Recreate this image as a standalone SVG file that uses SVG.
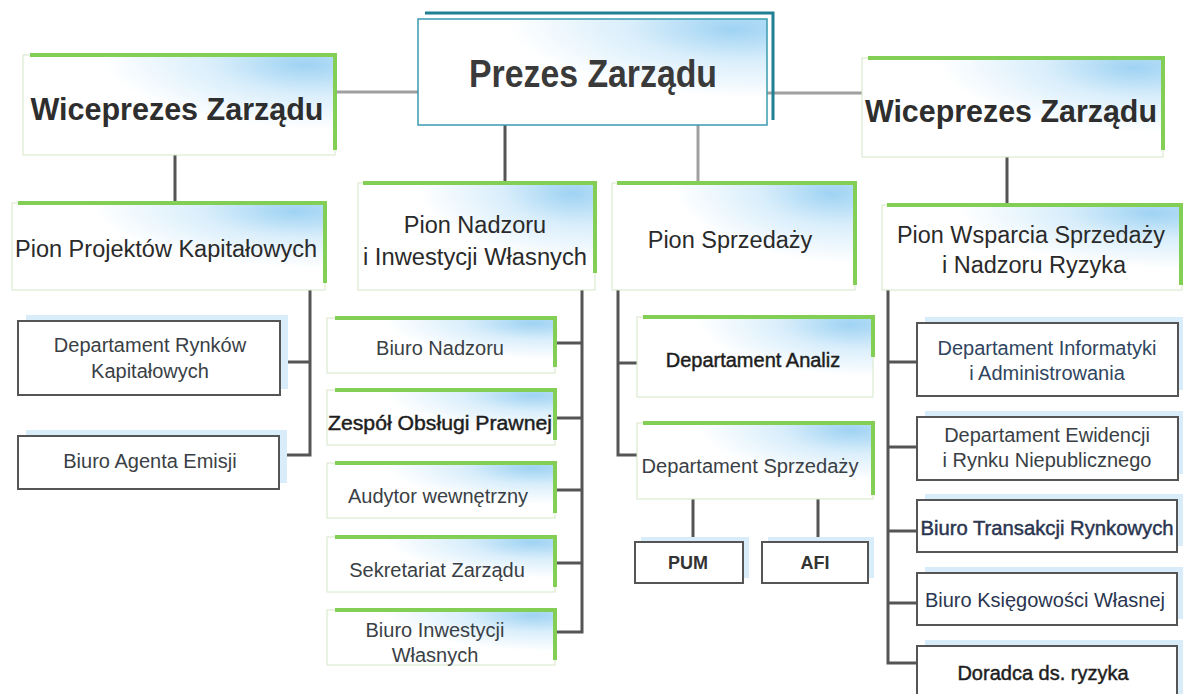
<svg xmlns="http://www.w3.org/2000/svg" width="1183" height="694" viewBox="0 0 1183 694">
<defs>
<radialGradient id="g" cx="1" cy="0" r="0.75" fx="0.9" fy="0.1">
<stop offset="0" stop-color="#9fd3f3"/>
<stop offset="0.45" stop-color="#d9eefb"/>
<stop offset="1" stop-color="#ffffff"/>
</radialGradient>
<style>
.gb{fill:url(#g);stroke:#d5e8c8;stroke-width:1}
.gr{fill:none;stroke:#83cf55;stroke-width:4}
.bx{fill:#fff;stroke:#555;stroke-width:2}
.sh{fill:#d8edf9}
.c{fill:none;stroke:#555;stroke-width:3}
.cl{fill:none;stroke:#a0a0a0;stroke-width:3}
text{font-family:"Liberation Sans",Arial,sans-serif;text-anchor:middle;fill:#333}
.t1{font-size:38px;font-weight:bold;fill:#3a3a3a}
.t2{font-size:31px;font-weight:bold;fill:#2e2e2e}
.t3{font-size:23.5px;fill:#2a2a2a}
.t4{font-size:20px;fill:#3a3f45}
.t5{font-size:20px;fill:#1e1e1e;stroke:#1e1e1e;stroke-width:0.45}
.t6{font-size:18px;font-weight:bold;fill:#333}
</style>
</defs>
<rect width="1183" height="694" fill="#fff"/>

<g id="connectors">
<path class="cl" d="M336,92 H418"/>
<path class="cl" d="M767,93 H862"/>
<path class="c" d="M505,125 V183"/>
<path class="cl" d="M698,125 V183"/>
<path class="c" d="M175,155 V203"/>
<path class="c" d="M1007,157 V205"/>
<path class="c" d="M310,290 V455 H279 M280,362 H310"/>
<path class="c" d="M582,290 V632 H555 M555,343 H582 M555,418 H582 M555,490 H582 M555,563 H582"/>
<path class="c" d="M618,290 V455 H637 M618,363 H637"/>
<path class="c" d="M693,499 V542 M818,499 V542"/>
<path class="c" d="M888,290 V663 H917 M888,362 H917 M888,447 H917 M888,531 H917 M888,603 H917"/>
</g>

<g id="prezes">
<path d="M425,13 H773 V120" fill="none" stroke="#1f7f93" stroke-width="3"/>
<rect x="418" y="19" width="349" height="106" fill="url(#g)" stroke="#3a9bb0" stroke-width="1.5"/>
<text class="t1" x="593" y="87" textLength="248" lengthAdjust="spacingAndGlyphs">Prezes Zarządu</text>
</g>

<g id="vp-left">
<rect class="gb" x="23" y="55" width="312" height="100"/>
<path class="gr" d="M30,55 H335 V150"/>
<text class="t2" x="177" y="120" textLength="293" lengthAdjust="spacingAndGlyphs">Wiceprezes Zarządu</text>
</g>

<g id="vp-right">
<rect class="gb" x="862" y="58" width="301" height="99"/>
<path class="gr" d="M868,58 H1163 V150"/>
<text class="t2" x="1011" y="122" textLength="292" lengthAdjust="spacingAndGlyphs">Wiceprezes Zarządu</text>
</g>

<g id="pion-projektow">
<rect class="gb" x="12" y="203" width="313" height="87"/>
<path class="gr" d="M18,203 H325 V283"/>
<text class="t3" x="166" y="257" textLength="302" lengthAdjust="spacingAndGlyphs">Pion Projektów Kapitałowych</text>
</g>

<g id="pion-nadzoru">
<rect class="gb" x="358" y="183" width="237" height="107"/>
<path class="gr" d="M363,183 H595 V273"/>
<text class="t3" x="475" y="233">Pion Nadzoru</text>
<text class="t3" x="475" y="265" textLength="224" lengthAdjust="spacingAndGlyphs">i Inwestycji Własnych</text>
</g>

<g id="pion-sprzedazy">
<rect class="gb" x="612" y="183" width="243" height="107"/>
<path class="gr" d="M617,183 H855 V285"/>
<text class="t3" x="730" y="248">Pion Sprzedaży</text>
</g>

<g id="pion-wsparcia">
<rect class="gb" x="882" y="205" width="300" height="85"/>
<path class="gr" d="M887,205 H1181 V285"/>
<text class="t3" x="1031" y="243" textLength="268" lengthAdjust="spacingAndGlyphs">Pion Wsparcia Sprzedaży</text>
<text class="t3" x="1034" y="273">i Nadzoru Ryzyka</text>
</g>

<g id="dep-rynkow">
<rect class="sh" x="26" y="315" width="262" height="74"/>
<rect class="bx" x="18" y="321" width="262" height="74"/>
<text class="t4" x="150" y="352">Departament Rynków</text>
<text class="t4" x="150" y="378">Kapitałowych</text>
</g>

<g id="biuro-agenta">
<rect class="sh" x="26" y="430" width="261" height="53"/>
<rect class="bx" x="18" y="436" width="261" height="53"/>
<text class="t4" x="150" y="468">Biuro Agenta Emisji</text>
</g>

<g id="biuro-nadzoru">
<rect class="gb" x="327" y="318" width="228" height="55"/>
<path class="gr" d="M335,318 H555 V367"/>
<text class="t4" x="440" y="355">Biuro Nadzoru</text>
</g>

<g id="zespol">
<rect class="gb" x="327" y="390" width="228" height="55"/>
<path class="gr" d="M335,390 H555 V440"/>
<text class="t5" x="440" y="430" textLength="224" lengthAdjust="spacingAndGlyphs">Zespół Obsługi Prawnej</text>
</g>

<g id="audytor">
<rect class="gb" x="327" y="463" width="228" height="55"/>
<path class="gr" d="M335,463 H555 V513"/>
<text class="t4" x="438" y="503">Audytor wewnętrzny</text>
</g>

<g id="sekretariat">
<rect class="gb" x="327" y="537" width="228" height="55"/>
<path class="gr" d="M335,537 H555 V587"/>
<text class="t4" x="437" y="577">Sekretariat Zarządu</text>
</g>

<g id="biuro-inwestycji">
<rect class="gb" x="327" y="610" width="228" height="55"/>
<path class="gr" d="M335,610 H555 V660"/>
<text class="t4" x="435" y="637">Biuro Inwestycji</text>
<text class="t4" x="435" y="662">Własnych</text>
</g>

<g id="dep-analiz">
<rect class="gb" x="637" y="317" width="236" height="80"/>
<path class="gr" d="M643,317 H873 V357"/>
<text class="t5" x="753" y="367">Departament Analiz</text>
</g>

<g id="dep-sprzedazy">
<rect class="gb" x="637" y="423" width="236" height="76"/>
<path class="gr" d="M643,423 H873 V495"/>
<text class="t4" x="750" y="473" textLength="217" lengthAdjust="spacingAndGlyphs">Departament Sprzedaży</text>
</g>

<g id="pum">
<rect class="sh" x="641" y="537" width="108" height="41"/>
<rect class="bx" x="635" y="542" width="108" height="41"/>
<text class="t6" x="688" y="569">PUM</text>
</g>

<g id="afi">
<rect class="sh" x="768" y="537" width="106" height="41"/>
<rect class="bx" x="762" y="542" width="106" height="41"/>
<text class="t6" x="815" y="569">AFI</text>
</g>

<g id="dep-informatyki">
<rect class="sh" x="925" y="317" width="258" height="73"/>
<rect class="bx" x="917" y="323" width="261" height="73"/>
<text class="t4" x="1047" y="355" fill="#2f4560" style="fill:#2f4560">Departament Informatyki</text>
<text class="t4" x="1047" y="380" style="fill:#2f4560">i Administrowania</text>
</g>

<g id="dep-ewidencji">
<rect class="sh" x="925" y="411" width="258" height="63"/>
<rect class="bx" x="917" y="417" width="261" height="63"/>
<text class="t4" x="1047" y="442">Departament Ewidencji</text>
<text class="t4" x="1047" y="467">i Rynku Niepublicznego</text>
</g>

<g id="biuro-transakcji">
<rect class="sh" x="925" y="494" width="258" height="52"/>
<rect class="bx" x="917" y="500" width="260" height="52"/>
<text class="t5" x="1047" y="535" textLength="253" lengthAdjust="spacingAndGlyphs" style="fill:#2a3550;stroke:#2a3550">Biuro Transakcji Rynkowych</text>
</g>

<g id="biuro-ksiegowosci">
<rect class="sh" x="925" y="567" width="258" height="52"/>
<rect class="bx" x="917" y="573" width="260" height="52"/>
<text class="t4" x="1045" y="607" style="fill:#2a3550">Biuro Księgowości Własnej</text>
</g>

<g id="doradca">
<rect class="sh" x="925" y="640" width="258" height="60"/>
<rect class="bx" x="917" y="646" width="260" height="60"/>
<text class="t5" x="1043" y="680">Doradca ds. ryzyka</text>
</g>
</svg>
